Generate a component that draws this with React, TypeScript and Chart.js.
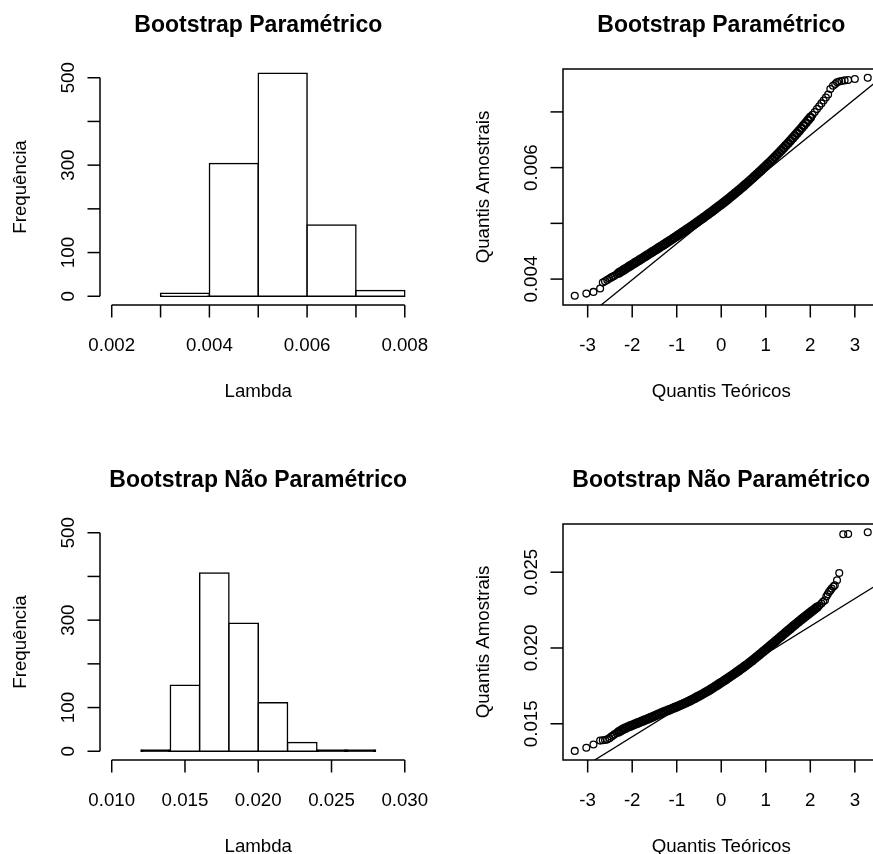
import React, { useEffect, useRef } from "react";
import { Chart, registerables } from "chart.js";

Chart.register(...registerables);

const FONT = '"Liberation Sans", Arial, Helvetica, sans-serif';

// ---------- Titles ----------
const titlePar = "Bootstrap Paramétrico";
const titleNonPar = "Bootstrap Não Paramétrico";
const histXTitle = "Lambda";
const histYTitle = "Frequência";
const qqXTitle = "Quantis Teóricos";
const qqYTitle = "Quantis Amostrais";

// ---------- Histogram: Bootstrap Paramétrico ----------
const parBinCenters = [0.0035, 0.0045, 0.0055, 0.0065, 0.0075];
const parCounts = [7, 304, 510, 163, 13];
const parXTicks = [0.002, 0.003, 0.004, 0.005, 0.006, 0.007, 0.008];
const parXTickLabels = ["0.002", "", "0.004", "", "0.006", "", "0.008"];
const parHistXRange = [0.00176, 0.00824];

// ---------- Histogram: Bootstrap Não Paramétrico ----------
const nonParBinCenters = [0.013, 0.015, 0.017, 0.019, 0.021, 0.023, 0.025, 0.027];
const nonParCounts = [3, 151, 408, 293, 111, 20, 3, 3];
const nonParXTicks = [0.01, 0.015, 0.02, 0.025, 0.03];
const nonParXTickLabels = ["0.010", "0.015", "0.020", "0.025", "0.030"];
const nonParHistXRange = [0.0092, 0.0308];

const histYTicks = [0, 100, 200, 300, 400, 500];
const histYTickLabels = ["0", "100", "", "300", "", "500"];
const histYRange = [-20, 520];

// ---------- QQ plots ----------
const qqXTicks = [-3, -2, -1, 0, 1, 2, 3];
const qqXTickLabels = ["-3", "-2", "-1", "0", "1", "2", "3"];
const qqXRange = [-3.554, 3.554];

// Paramétrico sample quantiles (theoretical, sample)
const qqParPoints: [number, number][] = [
  [-3.29, 0.0037], [-3.03, 0.00374], [-2.87, 0.00377], [-2.72, 0.00383], [-2.66, 0.00394],
  [-2.61, 0.00396], [-2.56, 0.003985], [-2.51, 0.00401], [-2.47, 0.00403], [-2.43, 0.004045],
  [-2.4, 0.004059], [-2.35, 0.004085], [-2.3, 0.00411], [-2.25, 0.004135], [-2.2, 0.00416],
  [-2.15, 0.004185], [-2.1, 0.00421], [-2.05, 0.004235], [-2.0, 0.00426], [-1.95, 0.004285],
  [-1.9, 0.00431], [-1.85, 0.004335], [-1.8, 0.00436], [-1.75, 0.004385], [-1.7, 0.00441],
  [-1.65, 0.004436], [-1.6, 0.004461], [-1.55, 0.004486], [-1.5, 0.004511], [-1.45, 0.004537],
  [-1.4, 0.004562], [-1.35, 0.004588], [-1.3, 0.004613], [-1.25, 0.004639], [-1.2, 0.004665],
  [-1.15, 0.004691], [-1.1, 0.004717], [-1.05, 0.004744], [-1.0, 0.00477], [-0.95, 0.004797],
  [-0.9, 0.004823], [-0.85, 0.00485], [-0.8, 0.004877], [-0.75, 0.004905], [-0.7, 0.004932],
  [-0.65, 0.00496], [-0.6, 0.004987], [-0.55, 0.005016], [-0.5, 0.005044], [-0.45, 0.005073],
  [-0.4, 0.005101], [-0.35, 0.00513], [-0.3, 0.005159], [-0.25, 0.005189], [-0.2, 0.005218],
  [-0.15, 0.005249], [-0.1, 0.005279], [-0.05, 0.00531], [0.0, 0.00534], [0.05, 0.005371],
  [0.1, 0.005402], [0.15, 0.005434], [0.2, 0.005466], [0.25, 0.005499], [0.3, 0.005532],
  [0.35, 0.005565], [0.4, 0.005598], [0.45, 0.005632], [0.5, 0.005666], [0.55, 0.005701],
  [0.6, 0.005736], [0.65, 0.005772], [0.7, 0.005807], [0.75, 0.005844], [0.8, 0.00588],
  [0.85, 0.005917], [0.9, 0.005954], [0.95, 0.005992], [1.0, 0.00603], [1.05, 0.006069],
  [1.1, 0.006108], [1.15, 0.006148], [1.2, 0.006188], [1.25, 0.006229], [1.3, 0.006269],
  [1.35, 0.006311], [1.4, 0.006353], [1.45, 0.006396], [1.5, 0.006439], [1.55, 0.006483],
  [1.6, 0.006527], [1.65, 0.006572], [1.7, 0.006617], [1.75, 0.006663], [1.8, 0.006709],
  [1.85, 0.006756], [1.9, 0.006803], [1.95, 0.006852], [2.0, 0.0069], [2.05, 0.00695],
  [2.1, 0.006999], [2.15, 0.00705], [2.2, 0.007101], [2.25, 0.007153], [2.3, 0.007205],
  [2.35, 0.007258], [2.4, 0.007312], [2.45, 0.00741], [2.51, 0.00747], [2.56, 0.0075],
  [2.6, 0.00753], [2.65, 0.007545], [2.7, 0.007555], [2.77, 0.007565], [2.85, 0.007573],
  [3.0, 0.00759], [3.29, 0.007614],
];
const qqParLineX = [-3.6, 3.6];
const qqParLineY = [0.002949, 0.007621];
const qqParYTicks = [0.004, 0.005, 0.006, 0.007];
const qqParYTickLabels = ["0.004", "", "0.006", ""];
const qqParYRange = [0.003535, 0.00777];
// theoretical-quantile span where the reference points overplot into a solid band
const qqParDense = [-2.3, 2.0];

// Não Paramétrico sample quantiles (theoretical, sample)
const qqNonParPoints: [number, number][] = [
  [-3.29, 0.01321], [-3.03, 0.01342], [-2.87, 0.01363], [-2.72, 0.01389], [-2.66, 0.01391],
  [-2.61, 0.01393], [-2.56, 0.01397], [-2.51, 0.01405], [-2.47, 0.01415], [-2.43, 0.01422],
  [-2.4, 0.0143], [-2.35, 0.014385], [-2.3, 0.01447], [-2.25, 0.014555], [-2.2, 0.01464],
  [-2.15, 0.01471], [-2.1, 0.01478], [-2.05, 0.01484], [-2.0, 0.0149], [-1.95, 0.01496],
  [-1.9, 0.01502], [-1.85, 0.01508], [-1.8, 0.01514], [-1.75, 0.0152], [-1.7, 0.01526],
  [-1.65, 0.01532], [-1.6, 0.01538], [-1.55, 0.015445], [-1.5, 0.01551], [-1.45, 0.015575],
  [-1.4, 0.01564], [-1.35, 0.0157], [-1.3, 0.01576], [-1.25, 0.01582], [-1.2, 0.01588],
  [-1.15, 0.01594], [-1.1, 0.016], [-1.05, 0.01606], [-1.0, 0.01612], [-0.95, 0.016185],
  [-0.9, 0.01625], [-0.85, 0.016315], [-0.8, 0.01638], [-0.75, 0.01645], [-0.7, 0.01652],
  [-0.65, 0.016595], [-0.6, 0.01667], [-0.55, 0.01675], [-0.5, 0.01683], [-0.45, 0.01691],
  [-0.4, 0.01699], [-0.35, 0.017075], [-0.3, 0.01716], [-0.25, 0.01725], [-0.2, 0.01734],
  [-0.15, 0.017435], [-0.1, 0.01753], [-0.05, 0.017625], [0.0, 0.01772], [0.05, 0.017815],
  [0.1, 0.01791], [0.15, 0.01801], [0.2, 0.01811], [0.25, 0.01821], [0.3, 0.01831],
  [0.35, 0.018415], [0.4, 0.01852], [0.45, 0.018625], [0.5, 0.01873], [0.55, 0.01884],
  [0.6, 0.01895], [0.65, 0.019065], [0.7, 0.01918], [0.75, 0.0193], [0.8, 0.01942],
  [0.85, 0.01954], [0.9, 0.01966], [0.95, 0.01978], [1.0, 0.0199], [1.05, 0.020025],
  [1.1, 0.02015], [1.15, 0.020275], [1.2, 0.0204], [1.25, 0.020525], [1.3, 0.02065],
  [1.35, 0.020775], [1.4, 0.0209], [1.45, 0.021025], [1.5, 0.02115], [1.55, 0.021275],
  [1.6, 0.0214], [1.65, 0.02152], [1.7, 0.02164], [1.75, 0.02176], [1.8, 0.02188],
  [1.85, 0.021995], [1.9, 0.02211], [1.95, 0.022225], [2.0, 0.02234], [2.05, 0.022455],
  [2.1, 0.02257], [2.15, 0.022685], [2.2, 0.0228], [2.25, 0.02293], [2.29, 0.02306],
  [2.33, 0.02315], [2.36, 0.0234], [2.39, 0.02355], [2.42, 0.02369], [2.45, 0.0238],
  [2.48, 0.02392], [2.52, 0.02405], [2.55, 0.02414], [2.6, 0.02447], [2.65, 0.02495],
  [2.74, 0.0275], [2.85, 0.02752], [3.29, 0.02764],
];
const qqNonParLineX = [-3.6, 3.6];
const qqNonParLineY = [0.011226, 0.024344];
const qqNonParYTicks = [0.015, 0.02, 0.025];
const qqNonParYTickLabels = ["0.015", "0.020", "0.025"];
const qqNonParYRange = [0.01261, 0.02818];
const qqNonParDense = [-2.3, 2.15];

// ---------- Layout ----------
const PANEL_W = 463;
const PANEL_H = 455;
const PAD = { left: 100, top: 69, right: 46.5, bottom: 150 };

type AxisCfg = {
  title: string;
  xTitle: string;
  yTitle: string;
  xTicks: number[];
  xLabels: string[];
  yTicks: number[];
  yLabels: string[];
  box: boolean;
};

function makeRPlot(cfg: AxisCfg) {
  return {
    id: "rPlot",
    afterDraw(chart: any) {
      const { ctx, chartArea: a, scales } = chart;
      const xs = scales.x;
      const ys = scales.y;
      const TICK = 12.5;
      const line = (x0: number, y0: number, x1: number, y1: number) => {
        ctx.beginPath();
        ctx.moveTo(x0, y0);
        ctx.lineTo(x1, y1);
        ctx.stroke();
      };
      ctx.save();
      ctx.strokeStyle = "#000";
      ctx.fillStyle = "#000";
      ctx.lineWidth = 1.5;
      if (cfg.box) {
        ctx.strokeRect(a.left, a.top, a.right - a.left, a.bottom - a.top);
      } else {
        line(
          xs.getPixelForValue(cfg.xTicks[0]), a.bottom,
          xs.getPixelForValue(cfg.xTicks[cfg.xTicks.length - 1]), a.bottom
        );
        line(
          a.left, ys.getPixelForValue(cfg.yTicks[0]),
          a.left, ys.getPixelForValue(cfg.yTicks[cfg.yTicks.length - 1])
        );
      }
      ctx.font = `18.7px ${FONT}`;
      ctx.textBaseline = "alphabetic";
      ctx.textAlign = "center";
      cfg.xTicks.forEach((v, i) => {
        const px = xs.getPixelForValue(v);
        line(px, a.bottom, px, a.bottom + TICK);
        if (cfg.xLabels[i]) ctx.fillText(cfg.xLabels[i], px, a.bottom + 45.5);
      });
      cfg.yTicks.forEach((v, i) => {
        const py = ys.getPixelForValue(v);
        line(a.left - TICK, py, a.left, py);
        if (cfg.yLabels[i]) {
          ctx.save();
          ctx.translate(a.left - 26, py);
          ctx.rotate(-Math.PI / 2);
          ctx.fillText(cfg.yLabels[i], 0, 0);
          ctx.restore();
        }
      });
      const cx = (a.left + a.right) / 2;
      const cy = (a.top + a.bottom) / 2;
      ctx.fillText(cfg.xTitle, cx, a.bottom + 92);
      ctx.save();
      ctx.translate(a.left - 74, cy);
      ctx.rotate(-Math.PI / 2);
      ctx.fillText(cfg.yTitle, 0, 0);
      ctx.restore();
      ctx.font = `bold 23px ${FONT}`;
      ctx.fillText(cfg.title, cx, a.top - 37);
      ctx.restore();
    },
  };
}

const baseOptions = () => ({
  animation: false as const,
  responsive: false,
  events: [] as any[],
  layout: { padding: PAD },
  plugins: { legend: { display: false }, tooltip: { enabled: false } },
});

// very short bars: the outline strokes merge into a solid black strip, as in the reference
const barFill = (c: any) => {
  const ys = c.chart.scales.y;
  const v = c.raw && typeof c.raw.y === "number" ? c.raw.y : 0;
  if (!ys) return "#ffffff";
  const h = Math.abs(ys.getPixelForValue(0) - ys.getPixelForValue(v));
  return h < 2.5 ? "#000000" : "#ffffff";
};

function histConfig(
  centers: number[], counts: number[], xRange: number[],
  xTicks: number[], xLabels: string[], title: string
): any {
  return {
    type: "bar",
    data: {
      datasets: [
        {
          data: centers.map((c, i) => ({ x: c, y: counts[i] })),
          backgroundColor: barFill,
          borderColor: "#000000",
          borderWidth: 1.5,
          borderSkipped: false,
          barPercentage: 1,
          categoryPercentage: 1,
          inflateAmount: 0.75,
        },
      ],
    },
    options: {
      ...baseOptions(),
      scales: {
        x: {
          type: "linear", display: false, offset: false,
          min: xRange[0], max: xRange[1],
          afterBuildTicks: (s: any) => { s.ticks = xTicks.map((v) => ({ value: v })); },
        },
        y: { type: "linear", display: false, min: histYRange[0], max: histYRange[1] },
      },
    },
    plugins: [
      makeRPlot({
        title, xTitle: histXTitle, yTitle: histYTitle,
        xTicks, xLabels, yTicks: histYTicks, yLabels: histYTickLabels, box: false,
      }),
    ],
  };
}

function qqConfig(
  points: [number, number][], lineX: number[], lineY: number[], yRange: number[],
  yTicks: number[], yLabels: string[], dense: number[], title: string
): any {
  const isDense = (ctx: any) => {
    const x = points[ctx.dataIndex] ? points[ctx.dataIndex][0] : 99;
    return x >= dense[0] && x <= dense[1];
  };
  return {
    type: "scatter",
    data: {
      datasets: [
        {
          type: "line",
          data: lineX.map((x, i) => ({ x, y: lineY[i] })),
          borderColor: "#000000",
          borderWidth: 1.3,
          pointRadius: 0,
          showLine: true,
          fill: false,
        },
        {
          data: points.map(([x, y]) => ({ x, y })),
          pointStyle: "circle",
          pointRadius: (c: any) => (isDense(c) ? 3.7 : 3.4),
          pointBorderWidth: (c: any) => (isDense(c) ? 2.4 : 1.3),
          pointBorderColor: "#000000",
          pointBackgroundColor: "rgba(0,0,0,0)",
          borderColor: "#000000",
          backgroundColor: "rgba(0,0,0,0)",
          showLine: false,
          clip: false,
        },
      ],
    },
    options: {
      ...baseOptions(),
      scales: {
        x: { type: "linear", display: false, min: qqXRange[0], max: qqXRange[1] },
        y: { type: "linear", display: false, min: yRange[0], max: yRange[1] },
      },
    },
    plugins: [
      makeRPlot({
        title, xTitle: qqXTitle, yTitle: qqYTitle,
        xTicks: qqXTicks, xLabels: qqXTickLabels, yTicks, yLabels, box: true,
      }),
    ],
  };
}

function Panel({ left, top, make }: { left: number; top: number; make: () => any }) {
  const ref = useRef<HTMLCanvasElement>(null);
  useEffect(() => {
    const chart = new Chart(ref.current as HTMLCanvasElement, make());
    return () => chart.destroy();
  }, []);
  return (
    <canvas
      ref={ref}
      width={PANEL_W}
      height={PANEL_H}
      style={{ position: "absolute", left, top, width: PANEL_W, height: PANEL_H }}
    />
  );
}

export default function App() {
  return (
    <div
      style={{
        position: "absolute", left: 0, top: 0, width: 873, height: 854,
        overflow: "hidden", background: "#ffffff",
      }}
    >
      <Panel
        left={0} top={0}
        make={() => histConfig(parBinCenters, parCounts, parHistXRange, parXTicks, parXTickLabels, titlePar)}
      />
      <Panel
        left={PANEL_W} top={0}
        make={() => qqConfig(qqParPoints, qqParLineX, qqParLineY, qqParYRange, qqParYTicks, qqParYTickLabels, qqParDense, titlePar)}
      />
      <Panel
        left={0} top={PANEL_H}
        make={() => histConfig(nonParBinCenters, nonParCounts, nonParHistXRange, nonParXTicks, nonParXTickLabels, titleNonPar)}
      />
      <Panel
        left={PANEL_W} top={PANEL_H}
        make={() => qqConfig(qqNonParPoints, qqNonParLineX, qqNonParLineY, qqNonParYRange, qqNonParYTicks, qqNonParYTickLabels, qqNonParDense, titleNonPar)}
      />
    </div>
  );
}
